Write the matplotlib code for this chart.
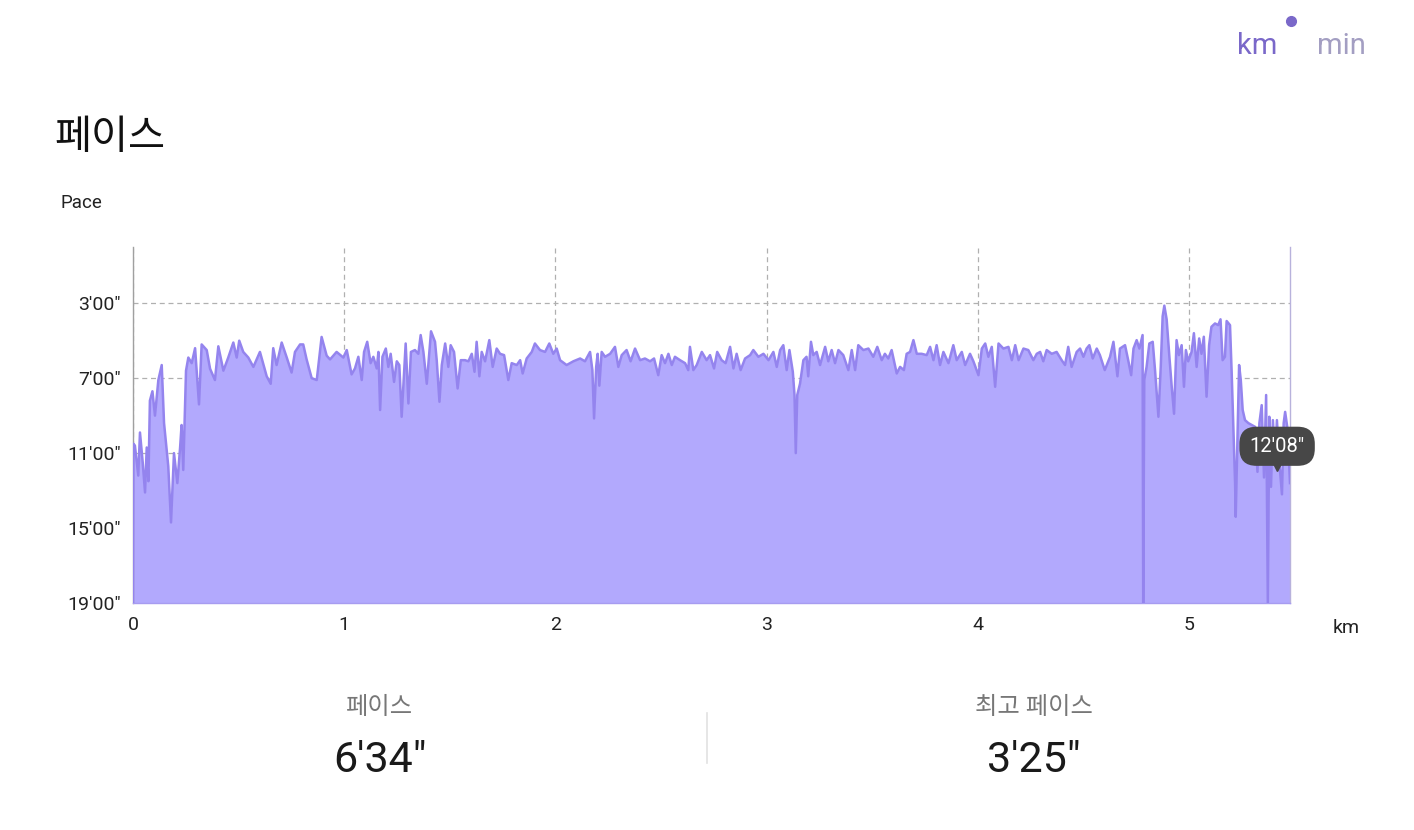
import matplotlib
matplotlib.use("Agg")
import matplotlib.pyplot as plt
from matplotlib.ticker import FuncFormatter
from matplotlib.transforms import offset_copy

plt.rcParams['font.family'] = ['Roboto', 'Noto Sans CJK KR', 'DejaVu Sans']

# distance (km) and pace (min/km)
distance_km = [
    0.000, 0.002, 0.009, 0.025, 0.033, 0.046, 0.057, 0.065, 0.073, 0.080,
    0.092, 0.104, 0.120, 0.136, 0.147, 0.167, 0.180, 0.194, 0.210, 0.223,
    0.230, 0.238, 0.251, 0.262, 0.278, 0.294, 0.3125, 0.325, 0.349, 0.365,
    0.388, 0.404, 0.428, 0.451, 0.475, 0.491, 0.503, 0.522, 0.546, 0.570,
    0.601, 0.633, 0.652, 0.664, 0.680, 0.704, 0.728, 0.751, 0.767, 0.791,
    0.806, 0.822, 0.846, 0.870, 0.893, 0.917, 0.933, 0.964, 0.996, 1.012,
    1.035, 1.051, 1.067, 1.083, 1.094, 1.109, 1.125, 1.138, 1.154, 1.162,
    1.170, 1.181, 1.197, 1.209, 1.220, 1.236, 1.249, 1.261, 1.272, 1.291,
    1.304, 1.316, 1.335, 1.351, 1.362, 1.375, 1.391, 1.411, 1.430, 1.438,
    1.451, 1.462, 1.478, 1.493, 1.504, 1.520, 1.537, 1.552, 1.572, 1.588,
    1.604, 1.617, 1.627, 1.640, 1.651, 1.667, 1.687, 1.703, 1.722, 1.738,
    1.757, 1.777, 1.793, 1.817, 1.833, 1.845, 1.864, 1.888, 1.903, 1.927,
    1.951, 1.971, 1.990, 2.006, 2.022, 2.053, 2.085, 2.117, 2.140, 2.164,
    2.175, 2.183, 2.193, 2.200, 2.208, 2.219, 2.235, 2.259, 2.282, 2.298,
    2.314, 2.337, 2.356, 2.377, 2.401, 2.424, 2.448, 2.467, 2.487, 2.503,
    2.519, 2.535, 2.551, 2.566, 2.590, 2.614, 2.629, 2.637, 2.653, 2.669,
    2.693, 2.716, 2.732, 2.751, 2.766, 2.787, 2.806, 2.827, 2.843, 2.858,
    2.877, 2.898, 2.922, 2.937, 2.961, 2.985, 3.009, 3.032, 3.048, 3.064,
    3.079, 3.095, 3.108, 3.124, 3.132, 3.138, 3.145, 3.158, 3.174, 3.189,
    3.197, 3.210, 3.221, 3.237, 3.253, 3.277, 3.292, 3.308, 3.324, 3.340,
    3.363, 3.387, 3.403, 3.419, 3.434, 3.458, 3.482, 3.505, 3.524, 3.545,
    3.560, 3.576, 3.592, 3.616, 3.632, 3.650, 3.663, 3.679, 3.695, 3.711,
    3.734, 3.758, 3.774, 3.790, 3.805, 3.821, 3.837, 3.861, 3.884, 3.900,
    3.924, 3.940, 3.963, 3.979, 4.003, 4.019, 4.035, 4.050, 4.066, 4.082,
    4.098, 4.121, 4.145, 4.161, 4.177, 4.193, 4.216, 4.239, 4.263, 4.279,
    4.295, 4.310, 4.326, 4.350, 4.373, 4.397, 4.413, 4.428, 4.444, 4.468,
    4.484, 4.500, 4.515, 4.528, 4.544, 4.563, 4.578, 4.601, 4.626, 4.642,
    4.661, 4.673, 4.697, 4.713, 4.726, 4.737, 4.752, 4.765, 4.776, 4.780,
    4.783, 4.788, 4.799, 4.812, 4.828, 4.839, 4.855, 4.866, 4.875, 4.883,
    4.894, 4.907, 4.918, 4.929, 4.941, 4.952, 4.965, 4.976, 4.985, 4.996,
    5.012, 5.023, 5.036, 5.048, 5.059, 5.070, 5.083, 5.095, 5.106, 5.123,
    5.138, 5.149, 5.159, 5.170, 5.178, 5.194, 5.202, 5.210, 5.218, 5.221,
    5.229, 5.237, 5.245, 5.254, 5.265, 5.281, 5.297, 5.313, 5.324, 5.333,
    5.344, 5.355, 5.365, 5.373, 5.380, 5.388, 5.397, 5.408, 5.416, 5.429,
    5.440, 5.448, 5.455, 5.467, 5.478,
]
pace_min = [
    19.0, 10.5, 10.6, 12.2, 9.9, 11.5, 13.1, 10.7, 12.5, 8.2,
    7.7, 9.0, 7.1, 6.3, 9.4, 11.7, 14.7, 11.0, 12.6, 10.7,
    9.5, 11.9, 6.6, 5.9, 6.2, 5.4, 8.4, 5.2, 5.5, 6.5,
    7.1, 5.3, 6.6, 5.9, 5.1, 5.9, 5.0, 5.6, 5.9, 6.4,
    5.6, 6.9, 7.3, 5.4, 6.3, 5.1, 5.9, 6.7, 5.6, 5.2,
    5.2, 6.0, 7.0, 7.1, 4.8, 5.8, 6.0, 5.6, 5.9, 5.5,
    6.8, 6.48, 5.86, 7.1, 5.6, 5.06, 6.2, 5.86, 6.48, 5.6,
    8.7, 5.86, 5.42, 6.4, 5.7, 7.2, 6.1, 6.3, 9.06, 5.15,
    8.35, 5.6, 5.5, 5.7, 4.7, 5.6, 7.3, 4.5, 5.06, 6.04,
    8.26, 6.3, 5.15, 6.4, 5.24, 5.6, 7.55, 6.04, 6.04, 6.1,
    5.7, 6.66, 5.06, 6.9, 5.6, 6.1, 4.97, 6.4, 5.42, 5.7,
    5.77, 7.1, 6.2, 6.3, 6.04, 6.75, 5.95, 5.6, 5.15, 5.5,
    5.6, 5.15, 5.7, 5.42, 6.04, 6.3, 6.1, 5.95, 6.1, 5.6,
    6.57, 9.15, 6.4, 5.7, 7.4, 5.6, 5.86, 5.7, 5.33, 6.4,
    5.77, 5.5, 6.1, 5.42, 6.04, 5.95, 6.1, 5.95, 6.84, 5.77,
    6.2, 5.7, 6.3, 5.86, 6.04, 6.2, 6.57, 5.33, 6.57, 6.3,
    5.6, 6.04, 5.77, 6.48, 5.6, 6.04, 6.2, 5.33, 6.48, 5.7,
    6.57, 5.95, 5.77, 5.5, 5.86, 5.7, 6.04, 5.6, 6.4, 5.5,
    5.24, 6.57, 5.5, 6.66, 7.9, 11.0, 7.9, 7.3, 6.04, 5.86,
    6.9, 5.06, 5.77, 5.6, 6.3, 5.33, 6.1, 5.5, 6.2, 5.5,
    5.77, 6.57, 5.5, 6.57, 5.24, 5.5, 5.42, 5.86, 5.33, 6.04,
    5.7, 5.95, 5.5, 6.75, 6.4, 6.57, 5.7, 5.6, 4.97, 5.7,
    5.7, 5.77, 5.33, 6.04, 5.24, 6.3, 5.6, 6.2, 5.24, 6.04,
    5.6, 6.3, 5.7, 6.1, 6.84, 5.42, 5.15, 5.86, 5.33, 7.46,
    5.15, 5.42, 5.33, 6.04, 5.24, 6.04, 5.42, 5.5, 6.04, 5.7,
    5.6, 6.1, 5.5, 5.7, 5.6, 6.04, 6.3, 5.33, 6.4, 5.6,
    5.42, 5.86, 5.42, 5.24, 5.95, 5.42, 5.77, 6.57, 5.86, 5.06,
    6.9, 5.42, 5.24, 6.1, 6.84, 5.42, 4.97, 5.42, 4.88, 4.7,
    19.0, 7.1, 6.4, 5.15, 5.06, 6.57, 9.06, 6.4, 3.7, 3.13,
    3.86, 5.86, 7.46, 8.9, 4.97, 5.77, 5.24, 7.46, 5.5, 6.1,
    5.6, 4.6, 6.4, 4.88, 5.7, 4.79, 7.99, 5.24, 4.26, 4.08,
    4.17, 3.86, 6.04, 5.86, 3.95, 4.17, 6.75, 9.77, 12.6, 14.4,
    10.3, 6.3, 7.1, 8.7, 9.24, 9.4, 9.5, 9.6, 12.0, 9.4,
    8.44, 12.3, 7.9, 19.0, 9.06, 12.8, 9.24, 11.5, 9.24, 11.7,
    13.2, 9.4, 8.8, 9.77, 12.6,
]

pace_ticks = [3, 7, 11, 15, 19]
km_ticks = [0, 1, 2, 3, 4, 5]
avg_pace = "6'34\""
best_pace = "3'25\""
tooltip_km, tooltip_pace = 5.417, 12.13


def fmt_pace(v, pos=None):
    m = int(v)
    s = int(round((v - m) * 60))
    return f"{m}'{s:02d}\""


fill_col = '#b2a9fd'
line_col = '#9484ee'
tip_col = '#474747'

fig = plt.figure(figsize=(14.14, 8.3), dpi=100)
ax = fig.add_axes([133 / 1414, 1 - 603 / 830, (1290 - 133) / 1414, (603 - 247) / 830])

ax.fill_between(distance_km, pace_min, 19, color=fill_col, lw=0, zorder=2)
ax.plot(distance_km, pace_min, color=line_col, lw=1.8, zorder=3)

ax.set_xlim(0, distance_km[-1])
ax.set_ylim(19, 0)
ax.set_yticks(pace_ticks)
ax.yaxis.set_major_formatter(FuncFormatter(fmt_pace))
ax.set_xticks(km_ticks)
ax.tick_params(length=0, labelsize=14, colors='#222222', pad=9)
ax.tick_params(axis='x', pad=9)

ax.grid(True, color='#b0b0b0', ls=(0, (4, 3)), lw=0.9, zorder=1)
ax.spines['top'].set_visible(False)
ax.spines['left'].set_color('#a0a0a0')
ax.spines['right'].set_color('#b8b2dc')
ax.spines['bottom'].set_color('#a79cf0')
for s in ax.spines.values():
    s.set_linewidth(1.0)

# tooltip: box above the point, small pointer just under the box
box_tr = offset_copy(ax.transData, fig=fig, x=0, y=28, units='dots')
ax.text(tooltip_km, tooltip_pace, fmt_pace(tooltip_pace), transform=box_tr,
        ha='center', va='center', fontsize=14.5, color='white', zorder=6,
        bbox=dict(boxstyle='round,pad=0.5,rounding_size=0.85', fc=tip_col, ec='none'))
tri_tr = offset_copy(ax.transData, fig=fig, x=0, y=9, units='dots')
ax.plot([tooltip_km], [tooltip_pace], marker='v', ms=8, color=tip_col,
        transform=tri_tr, zorder=6, clip_on=False)

# texts
fig.text(54 / 1414, 1 - 138 / 830, '페이스', fontsize=29, color='#111111', va='center',
         fontweight='medium')
fig.text(60 / 1414, 1 - 203 / 830, 'Pace', fontsize=13.5, color='#222222', va='center')
fig.text(1333 / 1414, 1 - 628 / 830, 'km', fontsize=14, color='#222222', va='center')

fig.text(1257 / 1414, 1 - 46 / 830, 'km', fontsize=21, color='#7a68c9', ha='center', va='center')
fig.text(1341 / 1414, 1 - 46 / 830, 'min', fontsize=21, color='#a39ec2', ha='center', va='center')
fig.add_artist(plt.Line2D([1291 / 1414], [1 - 21 / 830], transform=fig.transFigure,
                          marker='o', ms=7, color='#7a68c9', lw=0))

fig.text(380 / 1414, 1 - 707 / 830, '페이스', fontsize=17.5, color='#777777', ha='center', va='center')
fig.text(380 / 1414, 1 - 760 / 830, avg_pace, fontsize=31, color='#1a1a1a', ha='center', va='center')
fig.text(1034 / 1414, 1 - 707 / 830, '최고 페이스', fontsize=17.5, color='#777777', ha='center', va='center')
fig.text(1034 / 1414, 1 - 760 / 830, best_pace, fontsize=31, color='#1a1a1a', ha='center', va='center')
fig.add_artist(plt.Line2D([707 / 1414, 707 / 1414], [1 - 713 / 830, 1 - 763 / 830],
                          transform=fig.transFigure, color='#e2e2e2', lw=1.2))

fig.savefig('out.png', dpi=100, facecolor='white')
